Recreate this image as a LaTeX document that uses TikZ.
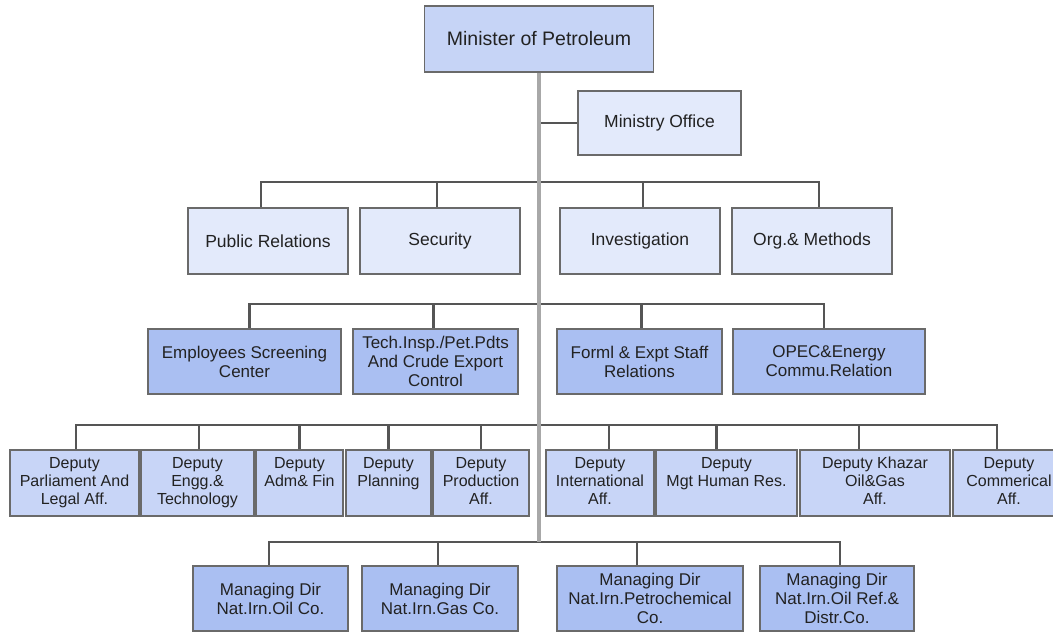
\documentclass[tikz,border=0pt]{standalone}
\usepackage{fontspec}
\setmainfont{Liberation Sans}
\definecolor{fillA}{HTML}{C6D4F6}
\definecolor{fillL}{HTML}{E3EAFB}
\definecolor{fillM}{HTML}{AABFF2}
\definecolor{fillR}{HTML}{C8D5F7}
\definecolor{edge}{HTML}{6A6A6A}
\definecolor{busc}{HTML}{555555}
\definecolor{trunkc}{HTML}{A8A8A8}
\definecolor{txt}{HTML}{222222}
\begin{document}
\begin{tikzpicture}[x=1pt,y=-1pt,
  box/.style={draw=edge, line width=1.4pt, inner sep=0pt, align=center, text=txt,
    font=\fontsize{17}{19}\selectfont},
  topbox/.style={box, fill=fillA, font=\fontsize{19.5}{22}\selectfont},
  lightbox/.style={box, fill=fillL, font=\fontsize{17.5}{19}\selectfont},
  midbox/.style={box, fill=fillM},
  depbox/.style={box, fill=fillR, font=\fontsize{16}{18.2}\selectfont},
  bus/.style={draw=busc, line width=2.7pt},
  trunk/.style={draw=trunkc, line width=3.2pt}]
\useasboundingbox (0,0) rectangle (1053,632);
\begin{scope}
\clip (0,0) rectangle (1053,632);
% top
\node[topbox, minimum width=229pt, minimum height=66pt] (min) at (539,39) {Minister of Petroleum};
\node[lightbox, minimum width=163pt, minimum height=64pt] (off) at (659.5,123) {Ministry Office};
% row 1
\node[lightbox, minimum width=160pt, minimum height=66pt] (pr) at (268,241) {Public Relations};
\node[lightbox, minimum width=160pt, minimum height=66pt] (sec) at (440,241) {Security};
\node[lightbox, minimum width=160pt, minimum height=66pt] (inv) at (640,241) {Investigation};
\node[lightbox, minimum width=160pt, minimum height=66pt] (org) at (812,241) {Org.\& Methods};
% row 2
\node[midbox, minimum width=193pt, minimum height=65pt] (emp) at (244.5,361.5) {Employees Screening\\Center};
\node[midbox, minimum width=165pt, minimum height=65pt] (tech) at (435.5,361.5) {Tech.Insp./Pet.Pdts\\And Crude Export\\Control};
\node[midbox, minimum width=165pt, minimum height=65pt] (form) at (639.5,361.5) {Forml \& Expt Staff\\Relations};
\node[midbox, minimum width=192pt, minimum height=65pt] (opec) at (829,361.5) {OPEC\&Energy\\Commu.Relation};
% row 3
\node[depbox, minimum width=129pt, minimum height=66pt] (parl) at (74.5,483) {\strut Deputy\\\strut Parliament And\\\strut Legal Aff.};
\node[depbox, minimum width=113pt, minimum height=66pt] (engg) at (197.5,483) {\strut Deputy\\\strut Engg.\&\\\strut Technology};
\node[depbox, minimum width=87pt, minimum height=66pt] (adm) at (299.5,483) {\strut Deputy\\\strut Adm\& Fin\\\strut};
\node[depbox, minimum width=85pt, minimum height=66pt] (plan) at (388.5,483) {\strut Deputy\\\strut Planning\\\strut};
\node[depbox, minimum width=96pt, minimum height=66pt] (prod) at (481,483) {\strut Deputy\\\strut Production\\\strut Aff.};
\node[depbox, minimum width=108pt, minimum height=66pt] (intl) at (600,483) {\strut Deputy\\\strut International\\\strut Aff.};
\node[depbox, minimum width=141pt, minimum height=66pt] (mgt) at (726.5,483) {\strut Deputy\\\strut Mgt Human Res.\\\strut};
\node[depbox, minimum width=150pt, minimum height=66pt] (khaz) at (875,483) {\strut Deputy Khazar\\\strut Oil\&Gas\\\strut Aff.};
\node[depbox, minimum width=112pt, minimum height=66pt] (comm) at (1009,483) {\strut Deputy\\\strut Commerical\\\strut Aff.};
% row 4
\node[midbox, minimum width=155pt, minimum height=65pt] (mdoil) at (270.5,598.5) {Managing Dir\\Nat.Irn.Oil Co.};
\node[midbox, minimum width=156pt, minimum height=65pt] (mdgas) at (440,598.5) {Managing Dir\\Nat.Irn.Gas Co.};
\node[midbox, minimum width=186pt, minimum height=65pt] (mdpet) at (650,598.5) {Managing Dir\\Nat.Irn.Petrochemical\\Co.};
\node[midbox, minimum width=154pt, minimum height=65pt] (mdref) at (837,598.5) {Managing Dir\\Nat.Irn.Oil Ref.\&\\Distr.Co.};
% bus coordinates on the trunk
\coordinate (j0) at (539,123);
\coordinate (j1) at (539,182);
\coordinate (j2) at (539,304);
\coordinate (j3) at (539,425);
\coordinate (j4) at (539,542);
% connectors
\draw[bus] (j0) -- (off.west);
\draw[bus] (j1) -| ([xshift=-7pt]pr.north);
\draw[bus] (j1) -| ([xshift=-3pt]sec.north);
\draw[bus] (j1) -| ([xshift=3pt]inv.north);
\draw[bus] (j1) -| ([xshift=7pt]org.north);
\draw[bus] (j2) -| ([xshift=5pt]emp.north);
\draw[bus] (j2) -| ([xshift=-2pt]tech.north);
\draw[bus] (j2) -| ([xshift=2pt]form.north);
\draw[bus] (j2) -| ([xshift=-5pt]opec.north);
\draw[bus] (j3) -| ([xshift=1.5pt]parl.north);
\draw[bus] (j3) -| ([xshift=1.5pt]engg.north);
\draw[bus] (j3) -| (adm.north);
\draw[bus] (j3) -| (plan.north);
\draw[bus] (j3) -| (prod.north);
\draw[bus] (j3) -| ([xshift=9pt]intl.north);
\draw[bus] (j3) -| ([xshift=-10pt]mgt.north);
\draw[bus] (j3) -| ([xshift=-16pt]khaz.north);
\draw[bus] (j3) -| ([xshift=-12pt]comm.north);
\draw[bus] (j4) -| ([xshift=-1.5pt]mdoil.north);
\draw[bus] (j4) -| ([xshift=-2pt]mdgas.north);
\draw[bus] (j4) -| ([xshift=-13pt]mdpet.north);
\draw[bus] (j4) -| ([xshift=3pt]mdref.north);
\draw[trunk] (min.south) -- (j4);
\end{scope}
\end{tikzpicture}
\end{document}
